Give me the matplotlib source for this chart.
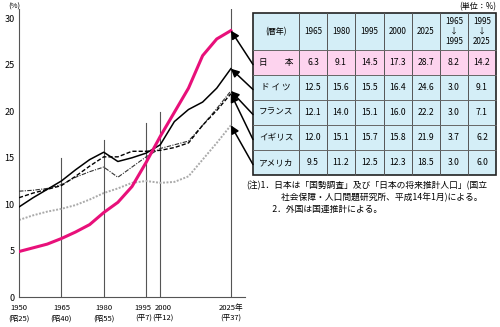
import matplotlib
matplotlib.use("Agg")
import matplotlib.pyplot as plt
from matplotlib.patches import Rectangle

plt.rcParams["font.family"] = ["Noto Sans CJK JP", "DejaVu Sans"]

# data, 5-year steps 1950-2025
years = [1950, 1955, 1960, 1965, 1970, 1975, 1980, 1985, 1990, 1995,
         2000, 2005, 2010, 2015, 2020, 2025]
japan = [4.9, 5.3, 5.7, 6.3, 7.0, 7.8, 9.1, 10.2, 11.9, 14.5,
         17.3, 19.9, 22.5, 26.0, 27.8, 28.7]
germany = [9.7, 10.7, 11.6, 12.5, 13.7, 14.8, 15.6, 14.6, 15.0, 15.5,
           16.4, 18.9, 20.2, 21.0, 22.5, 24.6]
france = [11.4, 11.5, 11.7, 12.1, 12.9, 13.5, 14.0, 12.9, 14.0, 15.1,
          16.0, 16.4, 16.8, 18.5, 20.3, 22.2]
uk = [10.7, 11.2, 11.6, 12.0, 13.0, 14.1, 15.1, 15.1, 15.7, 15.7,
      15.8, 16.1, 16.6, 18.5, 20.1, 21.9]
usa = [8.3, 8.8, 9.2, 9.5, 9.9, 10.5, 11.2, 11.7, 12.3, 12.5,
       12.3, 12.4, 13.0, 14.8, 16.6, 18.5]

guide_years = [1965, 1980, 1995, 2000, 2025]
guide_tops = [15.0, 16.9, 18.7, 19.9, 31.0]

tick_years = [1950, 1965, 1980, 1995, 2000, 2025]
tick_labels = ["1950\n(昭25)", "1965\n(昭40)", "1980\n(昭55)",
               "1995\n(平7)", "2000\n(平12)", "2025年\n(平37)"]

# table
col_heads = ["(暦年)", "1965", "1980", "1995", "2000", "2025",
             "1965\n↓\n1995", "1995\n↓\n2025"]
countries = ["日　　本", "ド イ ツ", "フランス", "イギリス", "アメリカ"]
table_vals = [
    ["6.3", "9.1", "14.5", "17.3", "28.7", "8.2", "14.2"],
    ["12.5", "15.6", "15.5", "16.4", "24.6", "3.0", "9.1"],
    ["12.1", "14.0", "15.1", "16.0", "22.2", "3.0", "7.1"],
    ["12.0", "15.1", "15.7", "15.8", "21.9", "3.7", "6.2"],
    ["9.5", "11.2", "12.5", "12.3", "18.5", "3.0", "6.0"],
]
end_vals = [japan[-1], germany[-1], france[-1], uk[-1], usa[-1]]

fig = plt.figure(figsize=(5, 3.27), dpi=100)
ax = fig.add_axes([0.038, 0.0917, 0.452, 0.88])

for yr, top in zip(guide_years, guide_tops):
    ax.plot([yr, yr], [0, top], color="#555555", lw=0.8, zorder=1)

ax.plot(years, usa, color="#aaaaaa", lw=1.4, ls=(0, (1, 0.8)), zorder=2)
ax.plot(years, france, color="#333333", lw=0.8, ls=(0, (4, 1.2, 1, 1.2)), zorder=3)
ax.plot(years, uk, color="black", lw=1.0, ls=(0, (3, 1.5)), zorder=3)
ax.plot(years, germany, color="black", lw=1.1, zorder=4)
ax.plot(years, japan, color="#e8107a", lw=2.2, zorder=5)

ax.set_xlim(1950, 2030)
ax.set_ylim(0, 31)
ax.set_yticks(range(0, 31, 5))
ax.set_xticks([])
ax.tick_params(axis="y", length=0, pad=3, labelsize=6.5)
for s in ["top", "right"]:
    ax.spines[s].set_visible(False)
ax.spines["left"].set_color("#555555")
ax.spines["bottom"].set_color("#555555")
ax.spines["left"].set_linewidth(0.8)
ax.spines["bottom"].set_linewidth(0.8)

shifts = [0, 0, 0, -2, 2, 0]
for yr, lab, dx in zip(tick_years, tick_labels, shifts):
    ax.annotate(lab, xy=(yr, 0), xytext=(dx, -5), textcoords="offset points",
                ha="center", va="top", fontsize=5.5, linespacing=1.5,
                annotation_clip=False)

# overlay in pixel coords for the table, notes and arrows
ov = fig.add_axes([0, 0, 1, 1])
ov.set_xlim(0, 500)
ov.set_ylim(327, 0)
ov.axis("off")

ov.text(8, 3, "(%)", fontsize=5.5, va="top", ha="left")
ov.text(496, 7, "(単位：%)", fontsize=5.8, va="center", ha="right")

col_edges = [253, 299, 327, 355, 384, 412, 440, 468, 496]
row_edges = [13, 50, 75, 100, 125, 150, 175]

for r in range(len(row_edges) - 1):
    fc = "#fdd3ee" if r == 1 else "#d4eef7"
    ov.add_patch(Rectangle((col_edges[0], row_edges[r]), col_edges[-1] - col_edges[0],
                           row_edges[r + 1] - row_edges[r], facecolor=fc,
                           edgecolor="none"))
for x in col_edges[1:-1]:
    ov.plot([x, x], [row_edges[0], row_edges[-1]], color="#555555", lw=0.7)
for y in row_edges[1:-1]:
    ov.plot([col_edges[0], col_edges[-1]], [y, y], color="#666666", lw=0.7)
ov.add_patch(Rectangle((col_edges[0], row_edges[0]), col_edges[-1] - col_edges[0],
                       row_edges[-1] - row_edges[0], facecolor="none",
                       edgecolor="#222222", lw=1.2))

def cx(i):
    return (col_edges[i] + col_edges[i + 1]) / 2

def cy(j):
    return (row_edges[j] + row_edges[j + 1]) / 2

for i, h in enumerate(col_heads):
    ov.text(cx(i), cy(0), h, ha="center", va="center", fontsize=5.8, linespacing=1.1)
for j, name in enumerate(countries):
    ov.text(cx(0), cy(j + 1), name, ha="center", va="center", fontsize=6.2)
    for i, v in enumerate(table_vals[j]):
        ov.text(cx(i + 1), cy(j + 1), v, ha="center", va="center", fontsize=6.2)

# arrows from table rows to the 2025 points
for j, v in enumerate(end_vals):
    ov.annotate("", xy=(2025, v), xycoords=ax.transData,
                xytext=(col_edges[0], cy(j + 1) + 2), textcoords=ov.transData,
                arrowprops=dict(arrowstyle="-|>", color="black", lw=1.1,
                                mutation_scale=12, shrinkA=0, shrinkB=0))

notes = ("(注)1．日本は「国勢調査」及び「日本の将来推計人口」(国立\n"
         "　　　　社会保障・人口問題研究所、平成14年1月)による。\n"
         "　　　2．外国は国連推計による。")
ov.text(246, 181, notes, ha="left", va="top", fontsize=6.3, linespacing=1.35)

fig.savefig("out.png", dpi=100)
